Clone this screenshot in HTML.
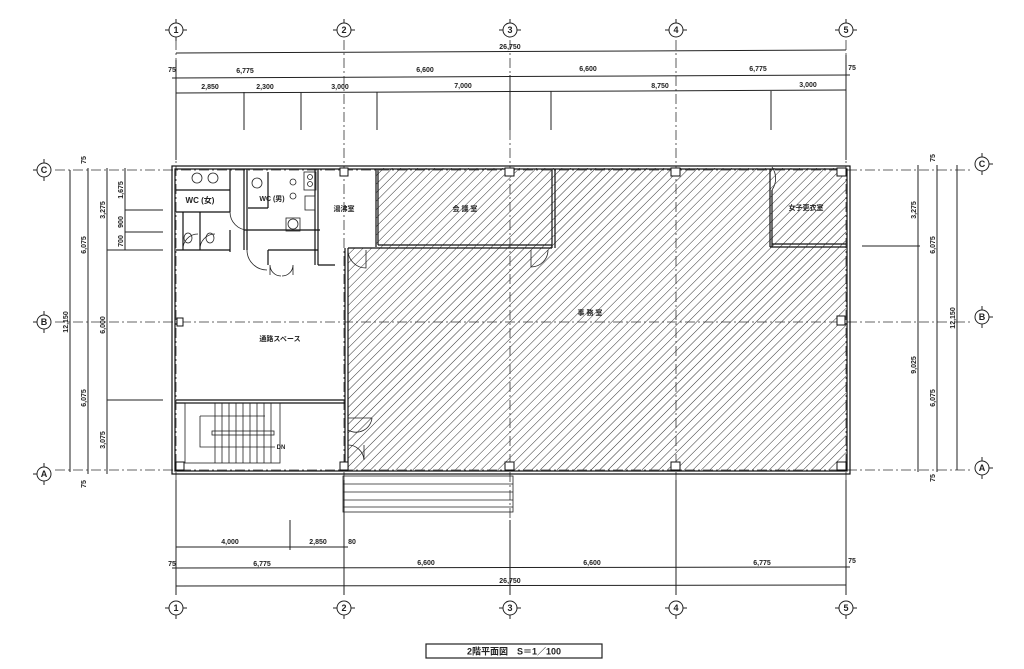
<!DOCTYPE html>
<html><head><meta charset="utf-8"><style>
html,body{margin:0;padding:0;background:#fff;}
svg{display:block;}
text{font-family:"Liberation Sans","Noto Sans CJK JP",sans-serif;fill:#222;font-weight:bold;}
</style></head><body>
<svg width="1024" height="669" viewBox="0 0 1024 669" xmlns="http://www.w3.org/2000/svg">
<defs>
<pattern id="h" width="6" height="6" patternUnits="userSpaceOnUse" patternTransform="rotate(45)">
<line x1="0" y1="0" x2="0" y2="6" stroke="#333" stroke-width="1"/>
</pattern>
</defs>
<rect width="1024" height="669" fill="#fff"/>
<path d="M376,168 H846 V470 H348 V248 H376 Z" fill="url(#h)"/>
<g stroke="#333" stroke-width="0.8" stroke-dasharray="10,3,2,3" fill="none">
<line x1="176" y1="40" x2="176" y2="598"/><line x1="344" y1="40" x2="344" y2="598"/>
<line x1="510" y1="40" x2="510" y2="598"/><line x1="676" y1="40" x2="676" y2="598"/>
<line x1="846" y1="40" x2="846" y2="598"/>
<line x1="55" y1="170" x2="970" y2="170"/><line x1="55" y1="322" x2="970" y2="322"/>
<line x1="55" y1="470" x2="970" y2="470"/>
</g>
<g stroke="#222" stroke-width="1" fill="#fff">
<circle cx="176" cy="30" r="7"/><circle cx="344" cy="30" r="7"/><circle cx="510" cy="30" r="7"/><circle cx="676" cy="30" r="7"/><circle cx="846" cy="30" r="7"/>
<circle cx="176" cy="608" r="7"/><circle cx="344" cy="608" r="7"/><circle cx="510" cy="608" r="7"/><circle cx="676" cy="608" r="7"/><circle cx="846" cy="608" r="7"/>
<circle cx="44" cy="170" r="7"/><circle cx="44" cy="322" r="7"/><circle cx="44" cy="474" r="7"/>
<circle cx="982" cy="164" r="7"/><circle cx="982" cy="317" r="7"/><circle cx="982" cy="468" r="7"/>
</g>
<g stroke="#222" stroke-width="1">
<path d="M165,30h4M183,30h4M176,19v4M176,37v4 M333,30h4M351,30h4M344,19v4 M499,30h4M517,30h4M510,19v4 M665,30h4M683,30h4M676,19v4 M835,30h4M853,30h4M846,19v4"/>
<path d="M165,608h4M183,608h4M176,615v4 M333,608h4M351,608h4M344,615v4 M499,608h4M517,608h4M510,615v4 M665,608h4M683,608h4M676,615v4 M835,608h4M853,608h4M846,615v4"/>
<path d="M44,159v4M44,177v4M33,170h4 M44,311v4M44,329v4M33,322h4 M44,463v4M44,481v4M33,474h4"/>
<path d="M982,153v4M982,171v4M989,164h4 M982,306v4M982,324v4M989,317h4 M982,457v4M982,475v4M989,468h4"/>
</g>
<g font-size="9" text-anchor="middle">
<text x="176" y="33">1</text><text x="344" y="33">2</text><text x="510" y="33">3</text><text x="676" y="33">4</text><text x="846" y="33">5</text>
<text x="176" y="611">1</text><text x="344" y="611">2</text><text x="510" y="611">3</text><text x="676" y="611">4</text><text x="846" y="611">5</text>
<text x="44" y="173">C</text><text x="44" y="325">B</text><text x="44" y="477">A</text>
<text x="982" y="167">C</text><text x="982" y="320">B</text><text x="982" y="471">A</text>
</g>
<g stroke="#222" stroke-width="1" fill="none">
<line x1="176" y1="53" x2="846" y2="50"/>
<line x1="172" y1="78" x2="850" y2="75"/>
<line x1="176" y1="93" x2="846" y2="90"/>
<line x1="244" y1="92" x2="244" y2="130"/><line x1="301" y1="92" x2="301" y2="130"/>
<line x1="377" y1="92" x2="377" y2="130"/><line x1="551" y1="91" x2="551" y2="130"/>
<line x1="771" y1="91" x2="771" y2="130"/><line x1="510" y1="75" x2="510" y2="130"/>
<line x1="176" y1="60" x2="176" y2="160"/><line x1="846" y1="55" x2="846" y2="160"/>
<line x1="70" y1="170" x2="70" y2="472"/><line x1="88" y1="168" x2="88" y2="474"/>
<line x1="107" y1="168" x2="107" y2="474"/><line x1="125" y1="168" x2="125" y2="250"/>
<line x1="125" y1="210" x2="163" y2="210"/><line x1="125" y1="232" x2="163" y2="232"/>
<line x1="107" y1="250" x2="163" y2="250"/><line x1="107" y1="400" x2="163" y2="400"/>
<line x1="918" y1="165" x2="918" y2="472"/><line x1="937" y1="165" x2="937" y2="472"/>
<line x1="957" y1="165" x2="957" y2="470"/><line x1="862" y1="246" x2="920" y2="246"/>
<line x1="176" y1="547" x2="348" y2="547"/>
<line x1="172" y1="568" x2="850" y2="567"/>
<line x1="176" y1="586" x2="846" y2="585"/>
<line x1="176" y1="480" x2="176" y2="595"/><line x1="290" y1="520" x2="290" y2="550"/>
<line x1="344" y1="480" x2="344" y2="595"/><line x1="846" y1="480" x2="846" y2="595"/>
<line x1="510" y1="520" x2="510" y2="595"/><line x1="676" y1="480" x2="676" y2="595"/>
</g>
<g font-size="7" text-anchor="middle">
<text x="510" y="49">26,750</text>
<text x="172" y="72">75</text><text x="245" y="73">6,775</text><text x="425" y="72">6,600</text><text x="588" y="71">6,600</text><text x="758" y="71">6,775</text><text x="852" y="70">75</text>
<text x="210" y="89">2,850</text><text x="265" y="89">2,300</text><text x="340" y="89">3,000</text><text x="463" y="88">7,000</text><text x="660" y="88">8,750</text><text x="808" y="87">3,000</text>
<text x="230" y="544">4,000</text><text x="318" y="544">2,850</text><text x="352" y="544">80</text>
<text x="172" y="566">75</text><text x="262" y="566">6,775</text><text x="426" y="565">6,600</text><text x="592" y="565">6,600</text><text x="762" y="565">6,775</text><text x="852" y="563">75</text>
<text x="510" y="583">26,750</text>
</g>
<g font-size="7" text-anchor="middle">
<text transform="translate(68,322) rotate(-90)">12,150</text>
<text transform="translate(86,245) rotate(-90)">6,075</text>
<text transform="translate(86,398) rotate(-90)">6,075</text>
<text transform="translate(105,210) rotate(-90)">3,275</text>
<text transform="translate(105,325) rotate(-90)">6,000</text>
<text transform="translate(105,440) rotate(-90)">3,075</text>
<text transform="translate(123,190) rotate(-90)">1,675</text>
<text transform="translate(123,222) rotate(-90)">900</text>
<text transform="translate(123,241) rotate(-90)">700</text>
<text transform="translate(86,160) rotate(-90)">75</text>
<text transform="translate(86,484) rotate(-90)">75</text>
<text transform="translate(916,210) rotate(-90)">3,275</text>
<text transform="translate(916,365) rotate(-90)">9,025</text>
<text transform="translate(935,245) rotate(-90)">6,075</text>
<text transform="translate(935,398) rotate(-90)">6,075</text>
<text transform="translate(955,318) rotate(-90)">12,150</text>
<text transform="translate(935,158) rotate(-90)">75</text>
<text transform="translate(935,478) rotate(-90)">75</text>
</g>
<g stroke="#111" stroke-width="1.2" fill="none">
<rect x="172" y="166" width="678" height="308"/>
<rect x="175" y="169" width="672" height="302"/>
<line x1="348" y1="248" x2="348" y2="470"/><line x1="345" y1="248" x2="345" y2="470"/>
<line x1="376" y1="169" x2="376" y2="247"/><line x1="378" y1="169" x2="378" y2="245"/>
<line x1="348" y1="248" x2="552" y2="248"/><line x1="378" y1="245" x2="552" y2="245"/>
<line x1="552" y1="169" x2="552" y2="248"/><line x1="555" y1="169" x2="555" y2="248"/>
<line x1="772" y1="190" x2="772" y2="247"/><line x1="770" y1="169" x2="770" y2="247"/>
<line x1="770" y1="247" x2="846" y2="247"/><line x1="772" y1="244" x2="846" y2="244"/>
<line x1="176" y1="400" x2="345" y2="400"/><line x1="176" y1="403" x2="345" y2="403"/>
<line x1="176" y1="250" x2="230" y2="250"/><line x1="244" y1="230" x2="320" y2="230"/>
<line x1="176" y1="190" x2="230" y2="190"/><line x1="176" y1="212" x2="230" y2="212"/>
<line x1="230" y1="169" x2="230" y2="212"/><line x1="230" y1="230" x2="230" y2="252"/>
<line x1="244" y1="169" x2="244" y2="250"/><line x1="247" y1="169" x2="247" y2="250"/>
<line x1="315" y1="169" x2="315" y2="265"/><line x1="318" y1="169" x2="318" y2="265"/>
<line x1="268" y1="250" x2="318" y2="250"/><line x1="268" y1="250" x2="268" y2="265"/>
<line x1="318" y1="265" x2="335" y2="265"/>
<line x1="200" y1="212" x2="200" y2="250"/><line x1="183" y1="212" x2="183" y2="250"/>
<line x1="248" y1="208" x2="268" y2="208"/><line x1="268" y1="172" x2="268" y2="208"/>
</g>
<g stroke="#222" stroke-width="0.8" fill="none">
<circle cx="197" cy="178" r="5"/><circle cx="213" cy="178" r="5"/>
<ellipse cx="188" cy="238" rx="4" ry="5"/><ellipse cx="210" cy="238" rx="4" ry="5"/>
<ellipse cx="257" cy="183" rx="5" ry="5"/><rect x="286" y="218" width="14" height="13"/><circle cx="293" cy="224" r="5"/>
<circle cx="293" cy="182" r="3"/><circle cx="293" cy="196" r="3"/>
<rect x="304" y="172" width="12" height="18"/><circle cx="310" cy="177" r="2.5"/><circle cx="310" cy="184" r="2.5"/>
<rect x="305" y="196" width="10" height="14"/>
<path d="M230,212 A18,18 0 0 0 248,230"/><path d="M183,250 A15,15 0 0 1 198,234"/><path d="M200,250 A15,15 0 0 1 215,234"/>
<path d="M247,250 A20,20 0 0 0 267,270"/>
<path d="M270,265 V275 M293,265 V275 M270,265 A11,11 0 0 0 281,276 M293,265 A11,11 0 0 1 282,276"/>
<path d="M348,250 A18,18 0 0 0 366,268 V250"/><path d="M548,250 A17,17 0 0 1 531,267 V250"/>
<path d="M348,418 H372 M348,430 A16,16 0 0 0 372,418"/><path d="M348,445 A16,16 0 0 1 364,460 V445"/>
<path d="M772,167 A20,20 0 0 1 772,190"/>
</g>
<g stroke="#222" stroke-width="0.8" fill="none">
<rect x="185" y="403" width="95" height="60"/>
<line x1="215" y1="403" x2="215" y2="463"/><line x1="222" y1="403" x2="222" y2="463"/><line x1="229" y1="403" x2="229" y2="463"/>
<line x1="236" y1="403" x2="236" y2="463"/><line x1="243" y1="403" x2="243" y2="463"/><line x1="250" y1="403" x2="250" y2="463"/>
<line x1="257" y1="403" x2="257" y2="463"/><line x1="264" y1="403" x2="264" y2="463"/><line x1="271" y1="403" x2="271" y2="463"/>
<rect x="212" y="431" width="62" height="4"/>
<path d="M200,416 H265 M200,416 V447 H275"/>
</g>
<g stroke="#111" stroke-width="1" fill="#fff">
<rect x="340" y="168" width="8" height="8"/><rect x="505" y="168" width="9" height="8"/><rect x="671" y="168" width="9" height="8"/><rect x="837" y="168" width="9" height="8"/>
<rect x="340" y="462" width="8" height="8"/><rect x="505" y="462" width="9" height="8"/><rect x="671" y="462" width="9" height="8"/><rect x="837" y="462" width="9" height="8"/>
<rect x="176" y="462" width="8" height="8"/><rect x="837" y="316" width="8" height="9"/><rect x="177" y="318" width="6" height="8"/>
</g>
<g stroke="#222" stroke-width="0.8" fill="none">
<rect x="343" y="476" width="170" height="36"/>
<line x1="343" y1="484" x2="513" y2="484"/><line x1="343" y1="492" x2="513" y2="492"/><line x1="343" y1="500" x2="513" y2="500"/><line x1="343" y1="507" x2="513" y2="507"/>
</g>
<g font-size="7" text-anchor="middle">
<text x="200" y="203" font-size="8">WC (女)</text>
<text x="272" y="201" font-size="7">WC (男)</text>
<text x="344" y="211">湯沸室</text>
<text x="465" y="211">会 議 室</text>
<text x="806" y="210">女子更衣室</text>
<text x="590" y="315">事 務 室</text>
<text x="280" y="341">通路スペース</text>
<text x="281" y="449" font-size="6">DN</text>
</g>
<rect x="426" y="644" width="176" height="14" fill="#fff" stroke="#222" stroke-width="1.2"/>
<text x="514" y="654.5" font-size="9" text-anchor="middle">2階平面図　S＝1／100</text>
</svg>
</body></html>
